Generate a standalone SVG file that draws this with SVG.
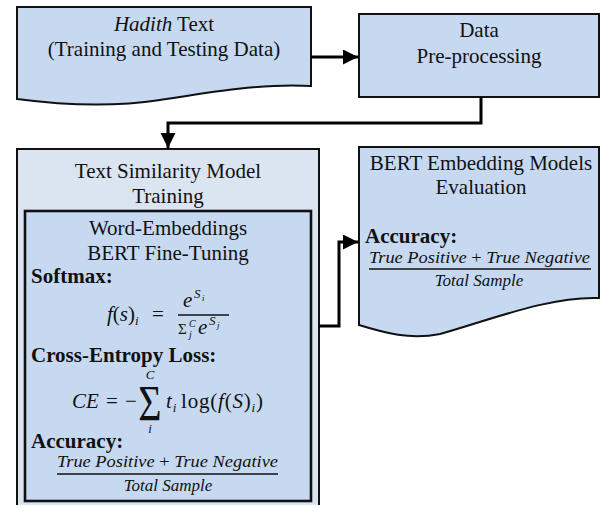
<svg xmlns="http://www.w3.org/2000/svg" width="600" height="505" viewBox="0 0 600 505" font-family="'Liberation Serif','DejaVu Serif',serif">
<style>
text{font-family:"Liberation Serif","DejaVu Serif",serif;fill:#111}
.t{font-size:21px}
.b{font-size:21px;font-weight:bold}
.m{font-size:20px;font-style:italic}
.n{font-size:20px;font-style:normal}
.fr{font-size:17px;font-style:italic}
.box{fill:#c6d9f1;stroke:#111;stroke-width:2}
.outer{fill:#dbe5f1;stroke:#111;stroke-width:2}
.inner{fill:#c6d9f1;stroke:#111;stroke-width:2.6}
.c{fill:none;stroke:#000;stroke-width:3}
.bar{stroke:#111;stroke-width:1.3}
</style>
<defs>
<marker id="ah" markerUnits="userSpaceOnUse" markerWidth="16" markerHeight="16" refX="15" refY="7.5" orient="auto">
<path d="M0,0 L15,7.5 L0,15 Z" fill="#000"/>
</marker>
</defs>

<g id="hadith">
<path class="box" d="M17,7 H311 V86 C265,83 210,92 160,100 C120,106 70,106 17,99 Z"/>
<text class="t" x="164" y="31" text-anchor="middle"><tspan font-style="italic">Hadith</tspan> Text</text>
<text class="t" x="164" y="56" text-anchor="middle">(Training and Testing Data)</text>
</g>

<g id="preprocessing">
<rect class="box" x="359" y="14" width="240" height="83"/>
<text class="t" x="479" y="37" text-anchor="middle">Data</text>
<text class="t" x="479" y="63" text-anchor="middle">Pre-processing</text>
</g>

<g id="training">
<rect class="outer" x="17" y="149" width="302" height="370"/>
<text class="t" x="168" y="178" text-anchor="middle">Text Similarity Model</text>
<text class="t" x="168" y="203" text-anchor="middle">Training</text>
<g id="finetuning">
<rect class="inner" x="25" y="211" width="286" height="290"/>
<text class="t" x="168" y="235" text-anchor="middle">Word-Embeddings</text>
<text class="t" x="168" y="260" text-anchor="middle">BERT Fine-Tuning</text>
<text class="b" x="31" y="283">Softmax:</text>
<text class="m" x="107" y="321" style="font-size:21px">f<tspan style="font-style:normal">(</tspan>s<tspan style="font-style:normal">)</tspan><tspan style="font-size:13px" dy="4">i</tspan></text>
<text class="n" x="152" y="321" style="font-size:21px">=</text>
<text class="m" x="183" y="307" style="font-size:21px">e</text>
<text class="m" x="194" y="298" style="font-size:13px">S</text>
<text class="m" x="202" y="301" style="font-size:9px">i</text>
<line class="bar" x1="178" y1="315" x2="229" y2="315"/>
<text class="n" x="178" y="334" style="font-size:15px">Σ</text>
<text class="m" x="189" y="327" style="font-size:10px">C</text>
<text class="m" x="189" y="338" style="font-size:10px">j</text>
<text class="m" x="198" y="334" style="font-size:21px">e</text>
<text class="m" x="209" y="325" style="font-size:13px">S</text>
<text class="m" x="217" y="328" style="font-size:9px">j</text>

<text class="b" x="31" y="362">Cross-Entropy Loss:</text>
<text class="m" x="150" y="379" text-anchor="middle" style="font-size:13px">C</text>
<text class="m" x="72" y="408" style="font-size:21px">CE</text>
<text class="n" x="106" y="408" style="font-size:21px">=</text>
<text class="n" x="125" y="408" style="font-size:21px">−</text>
<text class="n" x="150" y="420" text-anchor="middle" transform="translate(150,0) scale(0.8,1) translate(-150,0)" style="font-size:50px">Σ</text>
<text class="m" x="150" y="433" text-anchor="middle" style="font-size:13px">i</text>
<text class="m" x="166" y="408" style="font-size:21px" textLength="97" lengthAdjust="spacing">t<tspan style="font-size:13px" dy="4">i</tspan><tspan style="font-style:normal" dy="-4" dx="4">log(</tspan>f<tspan style="font-style:normal">(</tspan>S<tspan style="font-style:normal">)</tspan><tspan style="font-size:13px" dy="4">i</tspan><tspan style="font-style:normal" dy="-4">)</tspan></text>

<text class="b" x="31" y="448">Accuracy:</text>
<text class="fr" x="57" y="467" textLength="221" lengthAdjust="spacingAndGlyphs">True Positive <tspan style="font-style:normal">+</tspan> True Negative</text>
<line class="bar" x1="57" y1="474" x2="278" y2="474"/>
<text class="fr" x="168" y="491" text-anchor="middle">Total Sample</text>
</g>
</g>

<g id="evaluation">
<path class="box" d="M359,147 H599 V298 C550,296 490,320 440,334 C410,340 385,333 359,325 Z"/>
<text class="t" x="481" y="170" text-anchor="middle">BERT Embedding Models</text>
<text class="t" x="481" y="194" text-anchor="middle">Evaluation</text>
<text class="b" x="365" y="243">Accuracy:</text>
<text class="fr" x="369" y="263" textLength="221" lengthAdjust="spacingAndGlyphs">True Positive <tspan style="font-style:normal">+</tspan> True Negative</text>
<line class="bar" x1="369" y1="269" x2="591" y2="269"/>
<text class="fr" x="479" y="286" text-anchor="middle">Total Sample</text>
</g>

<g id="connectors">
<path class="c" d="M311,57 H358" marker-end="url(#ah)"/>
<path class="c" d="M481,97 V123 H168 V148" marker-end="url(#ah)"/>
<path class="c" d="M319,326 H339 V242 H358" marker-end="url(#ah)"/>
</g>
</svg>
